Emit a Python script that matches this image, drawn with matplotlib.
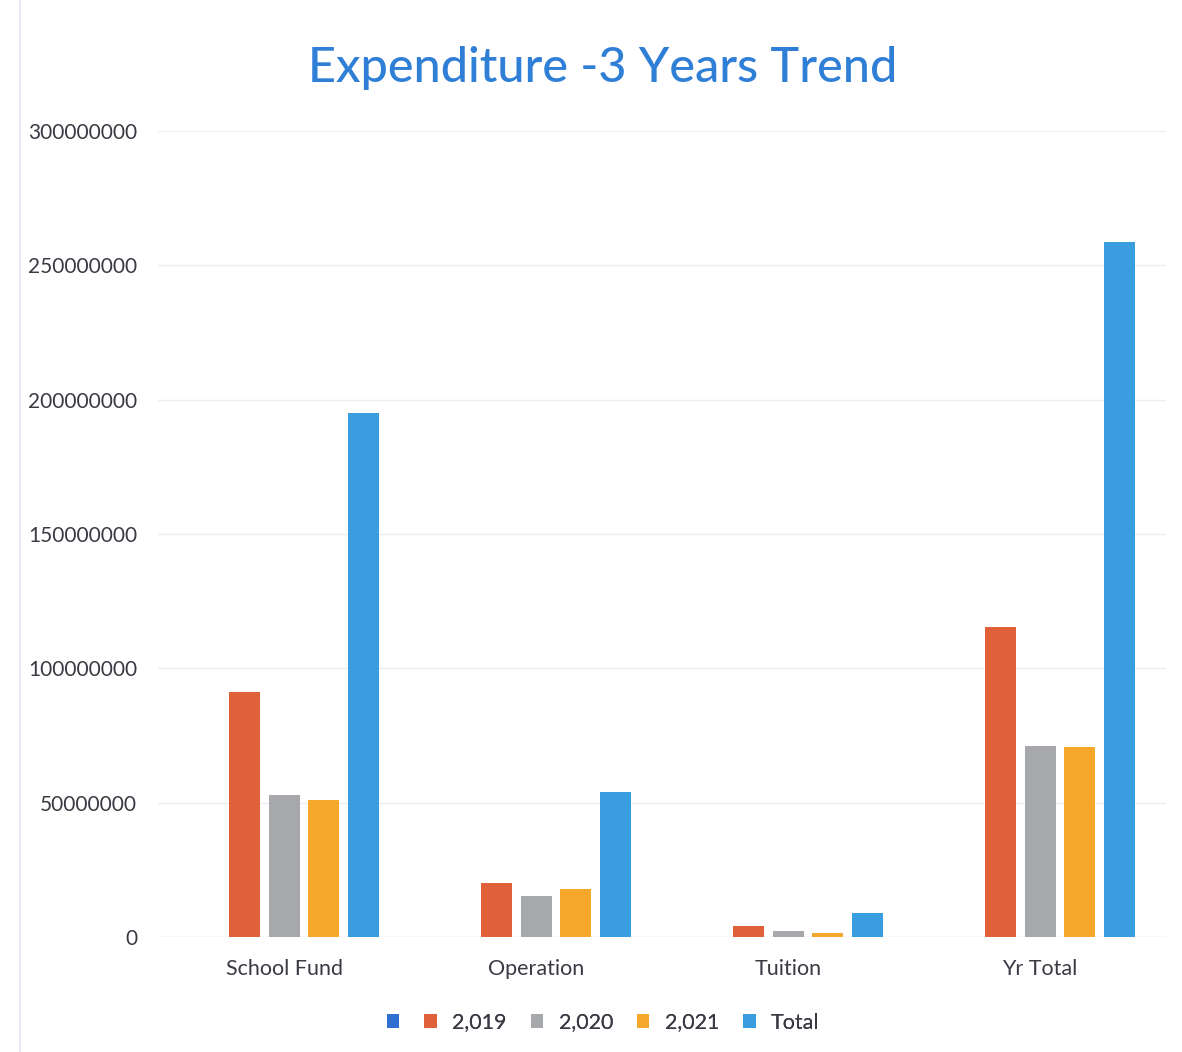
import matplotlib
matplotlib.use("Agg")
import matplotlib.pyplot as plt
from matplotlib.patches import Patch
import numpy as np

plt.rcParams['font.family'] = ['Lato', 'DejaVu Sans']

categories = ["School Fund", "Operation", "Tuition", "Yr Total"]
series_names = ["", "2,019", "2,020", "2,021", "Total"]
blank = [np.nan, np.nan, np.nan, np.nan]
v2019 = [91200000, 20100000, 4100000, 115400000]
v2020 = [52800000, 15300000, 2200000, 71000000]
v2021 = [51000000, 17900000, 1500000, 70700000]
vtotal = [195000000, 54000000, 8900000, 258600000]
series_values = [blank, v2019, v2020, v2021, vtotal]
colors = ["#2F6FD1", "#E0603A", "#A6A8AB", "#F5A82A", "#3A9DE0"]
yticks = [0, 50000000, 100000000, 150000000, 200000000, 250000000, 300000000]

text_color = "#3A3A44"

fig = plt.figure(figsize=(11.82, 10.52), dpi=100)
ax = fig.add_axes([0.1337, 0.1093, 0.8528, 0.7662])

x = np.arange(len(categories))
slot = 0.157
bw = 0.123
n = len(series_names)
for i, (vals, c) in enumerate(zip(series_values, colors)):
    off = (i - (n - 1) / 2) * slot
    ax.bar(x + off, vals, width=bw, color=c, zorder=3)

ax.set_xlim(-0.5, len(categories) - 0.5)
ax.set_ylim(0, 300000000)
ax.set_yticks(yticks)
ax.set_yticklabels([str(t) for t in yticks], fontsize=15, color=text_color)
ax.set_xticks(x)
ax.set_xticklabels(categories, fontsize=15.5, color=text_color)
ax.tick_params(axis='both', length=0)
ax.tick_params(axis='y', pad=15)
ax.tick_params(axis='x', pad=16)
ax.grid(axis='y', color="#EDEEF2", linewidth=1, zorder=0)
for s in ax.spines.values():
    s.set_visible(False)
ax.axhline(0, color="#E6E8EE", linewidth=1, zorder=2)

fig.text(0.51, 0.935, "Expenditure -3 Years Trend", ha='center', va='center',
         fontsize=35, color="#2F7FD6", fontweight='medium')

handles = [Patch(facecolor=c, edgecolor='none') for c in colors]
leg1 = fig.legend(handles[1:], series_names[1:], loc='center', bbox_to_anchor=(0.526, 0.028),
                  ncol=4, frameon=False, fontsize=15.5, handlelength=0.6, handleheight=0.6,
                  columnspacing=1.1, handletextpad=0.7, labelcolor=text_color)
leg0 = fig.legend(handles[:1], [""], loc='center', bbox_to_anchor=(0.3325, 0.028),
                  ncol=1, frameon=False, fontsize=15.5, handlelength=0.6, handleheight=0.6,
                  handletextpad=0.0)
fig.add_artist(leg1)

fig.add_artist(plt.Line2D([0.017, 0.017], [0.0, 1.0], color="#E4E8F2", linewidth=1.2))

fig.savefig("out.png", dpi=100, facecolor="white")
